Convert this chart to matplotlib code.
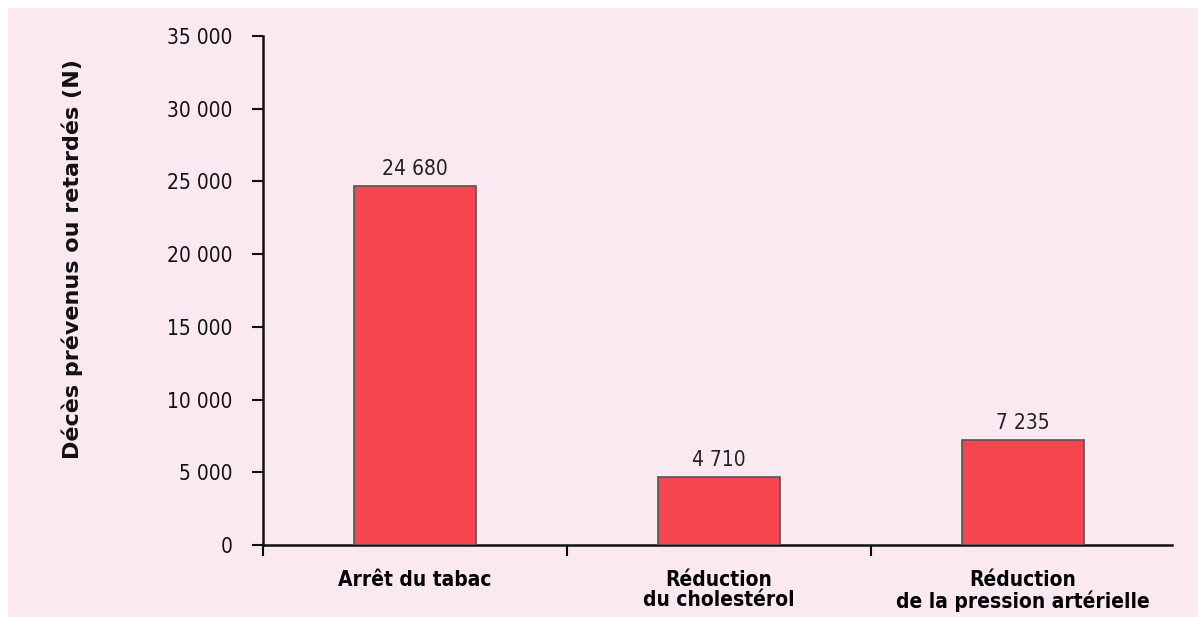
import matplotlib
matplotlib.use("Agg")
import matplotlib.pyplot as plt
from matplotlib.patches import Rectangle
from matplotlib.ticker import FuncFormatter, FixedLocator

categories = ["Arrêt du tabac", "Réduction\ndu cholestérol", "Réduction\nde la pression artérielle"]
values = [24680, 4710, 7235]
yticks = [0, 5000, 10000, 15000, 20000, 25000, 30000, 35000]
ylabel = "Décès prévenus ou retardés (N)"

def fmt(v):
    return f"{int(v):,}".replace(",", " ")

plt.rcParams['font.family'] = ['DejaVu Sans']
plt.rcParams['font.stretch'] = 'condensed'

fig = plt.figure(figsize=(11.98, 6.17), dpi=100, facecolor="white")
fig.patches.append(Rectangle((8/1198, 0), 1 - 8/1198, 1 - 8/617, transform=fig.transFigure,
                             facecolor="#FBE9F2", edgecolor="none", zorder=-10))
ax = fig.add_axes([263/1198, 1 - 545/617, (1172 - 263)/1198, (545 - 36)/617])
ax.set_facecolor("none")

x = list(range(len(categories)))
bars = ax.bar(x, values, width=0.4, color="#F5464F", edgecolor="#555555", linewidth=1.2, zorder=3)
for xi, v in zip(x, values):
    ax.annotate(fmt(v), (xi, v), xytext=(0, 5), textcoords="offset points",
                ha="center", va="bottom", fontsize=15, color="#222222", fontstretch='condensed')

ax.set_xlim(-0.5, 2.49)
ax.set_ylim(0, 35000)
ax.set_yticks(yticks)
ax.yaxis.set_major_formatter(FuncFormatter(lambda v, p: fmt(v)))
ax.tick_params(axis="y", length=8, width=1.5, pad=14, labelsize=15, colors="#111111")

ax.xaxis.set_major_locator(FixedLocator([-0.5, 0.5, 1.5]))
ax.xaxis.set_major_formatter(FuncFormatter(lambda v, p: ""))
ax.set_xticks(x, minor=True)
ax.set_xticklabels(categories, minor=True, fontsize=15, fontweight="bold", linespacing=1.02)
ax.tick_params(axis="x", which="major", length=8, width=1.5)
ax.tick_params(axis="x", which="minor", length=0, pad=18)

for s in ["top", "right"]:
    ax.spines[s].set_visible(False)
for s in ["left", "bottom"]:
    ax.spines[s].set_linewidth(1.8)
    ax.spines[s].set_color("#111111")

fig.text(72/1198, 1 - 259/617, ylabel, rotation=90, ha="center", va="center",
         fontsize=16, fontweight="bold", color="#111111", fontstretch='normal')

fig.savefig("out.png", dpi=100, facecolor="white")
